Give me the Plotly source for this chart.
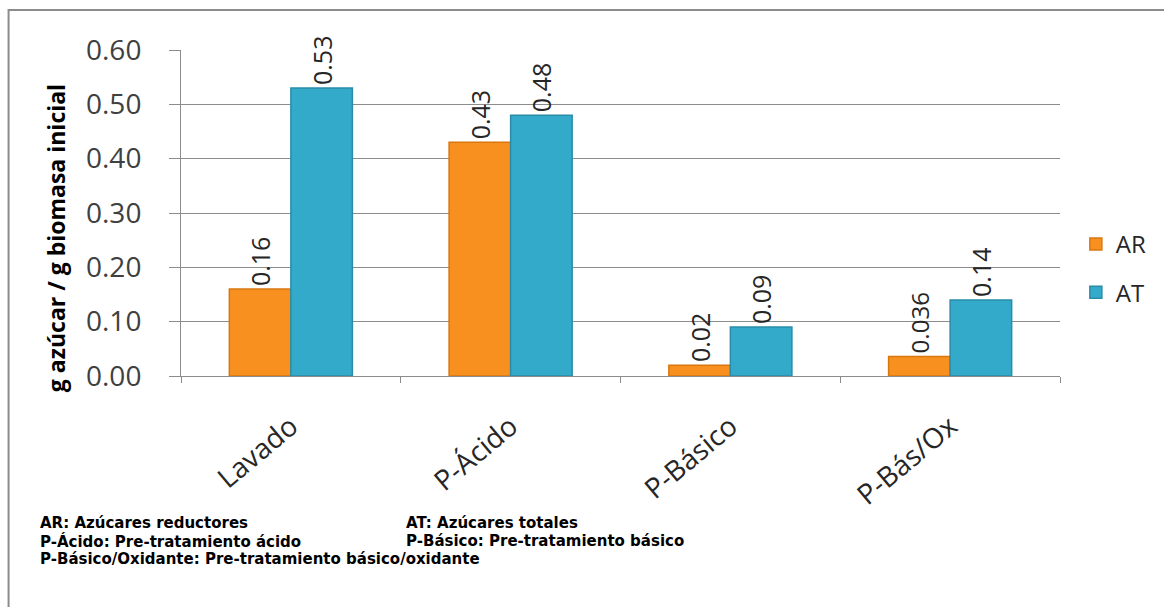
import plotly.graph_objects as go

# Categories and series values
categories = ["Lavado", "P-Ácido", "P-Básico", "P-Bás/Ox"]
ar_values = [0.16, 0.43, 0.02, 0.036]
at_values = [0.53, 0.48, 0.09, 0.14]
ar_labels = ["0.16", "0.43", "0.02", "0.036"]
at_labels = ["0.53", "0.48", "0.09", "0.14"]
y_ticks = [0.0, 0.1, 0.2, 0.3, 0.4, 0.5, 0.6]
y_ticklabels = ["0.00", "0.10", "0.20", "0.30", "0.40", "0.50", "0.60"]

notes = [
    ("AR: Azúcares reductores", 38, 523),
    ("AT: Azúcares totales", 407, 523),
    ("P-Ácido: Pre-tratamiento ácido", 38, 541),
    ("P-Básico: Pre-tratamiento básico", 407, 541),
    ("P-Básico/Oxidante: Pre-tratamiento básico/oxidante", 38, 559),
]

W, H = 1164, 607
L, R, T, B = 181, 96, 50, 231
PW, PH = W - L - R, H - T - B


def px_x(x):
    return (x - L) / PW


def px_y(y):
    return 1 - (y - T) / PH


label_font = dict(family="Open Sans", size=25, color="#262626")

fig = go.Figure()
fig.add_trace(go.Bar(
    name="AR", x=categories, y=ar_values,
    marker=dict(color="#F7901E", line=dict(color="#D9770F", width=1.5)),
    text=ar_labels, textposition="outside", textangle=-90,
    textfont=label_font, cliponaxis=False, legendgroup="ar",
))
fig.add_trace(go.Bar(
    name="AT", x=categories, y=at_values,
    marker=dict(color="#34AACB", line=dict(color="#2A8CA8", width=1.5)),
    text=at_labels, textposition="outside", textangle=-90,
    textfont=label_font, cliponaxis=False, legendgroup="at",
))

fig.update_layout(
    width=W, height=H,
    margin=dict(l=L, r=R, t=T, b=B),
    paper_bgcolor="white", plot_bgcolor="white",
    barmode="group", bargap=0.44, bargroupgap=0,
    font=dict(family="Open Sans", color="#262626"),
    legend=dict(
        x=px_x(1084), y=px_y(222), xanchor="left", yanchor="top",
        font=dict(family="Open Sans", size=24, color="#262626"),
        tracegroupgap=14, itemwidth=30, bgcolor="rgba(0,0,0,0)",
    ),
    showlegend=True,
)

fig.update_xaxes(
    showline=True, linecolor="#8C8C8C", linewidth=1,
    ticks="outside", tickson="boundaries", ticklen=6, tickcolor="#8C8C8C",
    ticklabelstandoff=22,
    tickangle=-40, tickfont=dict(family="Open Sans", size=28, color="#262626"),
    showgrid=False,
)
fig.update_yaxes(
    range=[0, 0.6], tickvals=y_ticks, ticktext=y_ticklabels,
    showline=True, linecolor="#8C8C8C", linewidth=1,
    ticks="outside", ticklen=11, tickcolor="#8C8C8C",
    ticklabelstandoff=22,
    tickfont=dict(family="Open Sans", size=28, color="#404040"),
    showgrid=True, gridcolor="#8C8C8C", gridwidth=1,
    zeroline=False,
)

# Vertical axis title
fig.add_annotation(
    text="<b>g azúcar / g biomasa inicial</b>",
    xref="paper", yref="paper", x=px_x(55), y=px_y(238),
    xanchor="center", yanchor="middle", textangle=-90, showarrow=False,
    font=dict(family="Open Sans", size=23, color="#000000"),
)

# Abbreviation notes below the chart
for text, x, y in notes:
    fig.add_annotation(
        text=f"<b>{text}</b>", xref="paper", yref="paper",
        x=px_x(x), y=px_y(y), xanchor="left", yanchor="middle",
        showarrow=False, borderpad=0,
        font=dict(family="DejaVu Sans", size=15, color="#000000"),
    )

# Chart frame
fig.add_shape(
    type="rect", xref="paper", yref="paper",
    x0=px_x(7), x1=px_x(1200), y0=px_y(10), y1=px_y(640),
    line=dict(color="#8C8C8C", width=2), fillcolor="rgba(0,0,0,0)", layer="below",
)

fig.write_html("out.html")
